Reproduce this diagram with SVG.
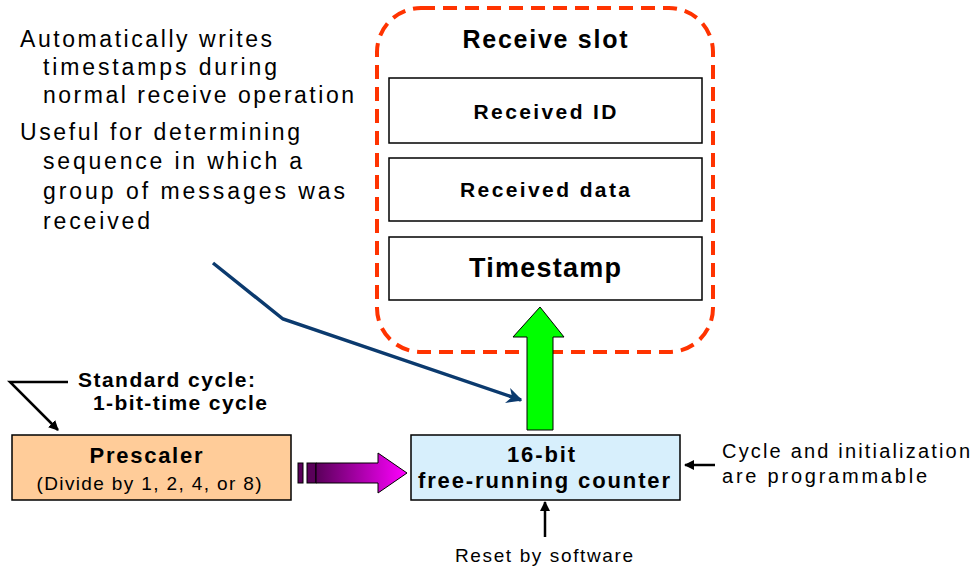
<svg xmlns="http://www.w3.org/2000/svg" width="975" height="568" viewBox="0 0 975 568">
<style>
.t{font-family:"Liberation Sans",Arial,sans-serif;fill:#000}
.b{font-weight:bold}
.box{stroke:#000;stroke-width:1.5}
.ln{fill:none;stroke:#000;stroke-width:2.5}
</style>
<defs>
<marker id="ah" viewBox="0 0 10 10" refX="9" refY="5" markerWidth="4" markerHeight="4" orient="auto"><path d="M0,0 L10,5 L0,10 z" fill="#000"/></marker>
<marker id="ahn" viewBox="0 0 10 10" refX="9" refY="5" markerWidth="4.5" markerHeight="4.5" orient="auto"><path d="M0,0 L10,5 L0,10 L3,5 z" fill="#0B3A6E"/></marker>
<linearGradient id="pg" x1="0" y1="0" x2="1" y2="0"><stop offset="0" stop-color="#5A005A"/><stop offset="1" stop-color="#FF00FF"/></linearGradient>
</defs>

<g id="notes">
<text class="t" font-size="23"><tspan x="20" y="47" textLength="252">Automatically writes</tspan></text>
<text class="t" font-size="23"><tspan x="43" y="75" textLength="234">timestamps during</tspan></text>
<text class="t" font-size="23"><tspan x="43" y="103" textLength="311">normal receive operation</tspan></text>
<text class="t" font-size="23"><tspan x="20" y="140" textLength="280">Useful for determining</tspan></text>
<text class="t" font-size="23"><tspan x="43" y="169" textLength="259">sequence in which a</tspan></text>
<text class="t" font-size="23"><tspan x="43" y="199" textLength="302">group of messages was</tspan></text>
<text class="t" font-size="23"><tspan x="43" y="229" textLength="107">received</tspan></text>
</g>

<g id="receive-slot">
<rect x="377" y="8" width="336" height="344" rx="44" fill="none" stroke="#FF3300" stroke-width="4" stroke-dasharray="14 8"/>
<text class="t b" font-size="25" x="545" y="48" text-anchor="middle" textLength="165">Receive slot</text>
</g>
<g id="received-id">
<rect class="box" x="389" y="78" width="313" height="65" fill="#fff"/>
<text class="t b" font-size="21" x="545" y="119" text-anchor="middle" textLength="143">Received ID</text>
</g>
<g id="received-data">
<rect class="box" x="389" y="158" width="313" height="63" fill="#fff"/>
<text class="t b" font-size="21" x="545" y="197" text-anchor="middle" textLength="170">Received data</text>
</g>
<g id="timestamp">
<rect class="box" x="389" y="237" width="313" height="63" fill="#fff"/>
<text class="t b" font-size="27" x="545" y="277" text-anchor="middle" textLength="152">Timestamp</text>
</g>

<g id="counter">
<rect class="box" x="411" y="435" width="269" height="65" fill="#D7EFFC"/>
<text class="t b" font-size="22" x="541" y="462" text-anchor="middle" textLength="68">16-bit</text>
<text class="t b" font-size="22" x="544" y="488" text-anchor="middle" textLength="252">free-running counter</text>
</g>

<g id="prescaler">
<rect class="box" x="12" y="435" width="279" height="65" fill="#FFCC99"/>
<text class="t b" font-size="22" x="146" y="463" text-anchor="middle" textLength="113">Prescaler</text>
<text class="t" font-size="19" x="149" y="490" text-anchor="middle" textLength="225">(Divide by 1, 2, 4, or 8)</text>
</g>

<g id="labels">
<text class="t b" font-size="21" x="78" y="387" textLength="177">Standard cycle:</text>
<text class="t b" font-size="21" x="93" y="410" textLength="174">1-bit-time cycle</text>
<text class="t" font-size="20" x="722" y="458" textLength="248">Cycle and initialization</text>
<text class="t" font-size="20" x="722" y="483" textLength="205">are programmable</text>
<text class="t" font-size="19" x="544" y="562" text-anchor="middle" textLength="178">Reset by software</text>
</g>

<g id="connectors">
<polyline class="ln" points="68,382 10,382 58,430" marker-end="url(#ah)"/>
<line class="ln" x1="715" y1="465" x2="685" y2="465" marker-end="url(#ah)"/>
<line class="ln" x1="545" y1="537" x2="545" y2="502" marker-end="url(#ah)"/>
<polyline points="213,263 283,319 521,400" fill="none" stroke="#0B3A6E" stroke-width="3.5" marker-end="url(#ahn)"/>
<path d="M527,430 L527,337 L513,337 L540,307 L564,337 L553,337 L553,430 Z" fill="#00FF00" stroke="#000" stroke-width="1"/>
<g stroke="#000" stroke-width="1">
<rect x="298" y="463" width="5" height="20" fill="#5A005A"/>
<rect x="307" y="463" width="9" height="20" fill="#5A005A"/>
<path d="M316,463 L378,463 L378,453 L407,473 L378,493 L378,483 L316,483 Z" fill="url(#pg)"/>
</g>
</g>
</svg>
